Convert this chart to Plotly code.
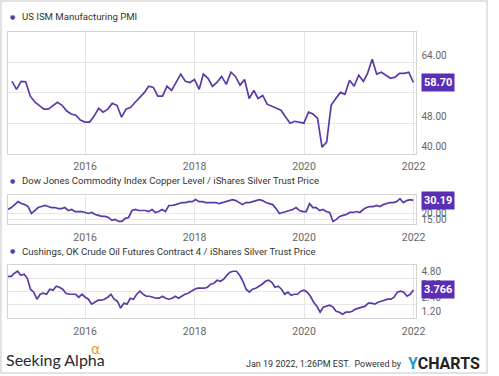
import pandas as pd
import plotly.graph_objects as go

# ---------------- data ----------------
pmi_title = "US ISM Manufacturing PMI"
cu_title = "Dow Jones Commodity Index Copper Level / iShares Silver Trust Price"
oil_title = "Cushings, OK Crude Oil Futures Contract 4 / iShares Silver Trust Price"

pmi_values = [
    59.0, 56.9, 59.0, 58.9, 55.1, 53.5, 52.7, 51.7, 51.7, 52.7,
    53.5, 52.7, 51.2, 50.4, 50.1, 48.8, 48.3, 48.3, 49.8, 51.9,
    50.9, 51.7, 53.2, 52.7, 49.6, 51.7, 52.2, 53.5, 54.8, 56.1,
    57.7, 57.4, 55.1, 55.1, 57.7, 56.6, 58.8, 60.9, 59.0, 58.7,
    59.5, 56.9, 60.9, 59.8, 57.7, 58.8, 60.3, 58.2, 61.4, 60.3,
    58.0, 59.5,
    54.5, 56.6, 54.5, 55.3, 53.0, 52.5, 51.9, 51.4, 49.6, 48.0,
    48.5, 48.3, 48.0, 50.9, 50.4, 49.3, 41.7, 43.0, 52.7, 54.5,
    56.1, 55.6, 59.3, 57.7, 60.6, 59.0, 61.1, 64.8, 60.9, 61.4,
    60.6, 59.8, 60.1, 61.1, 61.1, 61.4, 58.7,
]
pmi_dates = pd.date_range("2014-08-31", periods=len(pmi_values), freq="ME")

cu_values = [
    23.1, 24.6, 26.9, 29.2, 27.7, 26.9, 25.4, 20.0, 22.3, 24.6,
    25.4, 26.2, 25.4, 24.6, 24.6, 23.8, 23.8, 24.6, 22.3, 23.1,
    21.5, 21.5, 21.5, 20.8, 20.0, 20.8, 19.2, 18.5, 17.7, 17.7,
    16.9, 14.6, 15.4, 13.8, 13.8, 16.2, 16.9, 22.3, 23.1, 22.3,
    22.3, 22.3, 21.5, 23.1, 20.8, 21.5, 23.1, 21.5, 26.2, 26.2,
    26.9, 27.7, 28.5, 28.5, 29.2, 29.2, 30.8, 29.2, 29.2, 28.5,
    28.5, 28.5, 28.5, 27.7, 28.5, 29.2, 30.0, 30.8, 30.0, 28.5,
    26.9, 28.5, 28.5, 29.2, 30.0, 30.8, 30.0, 28.5, 27.7, 26.9,
    23.8, 20.0, 20.8, 21.5, 22.3, 23.1, 24.6, 22.3, 21.5, 21.5,
    27.7, 24.6, 24.6, 22.3, 23.1, 21.5, 20.8, 13.8, 15.4, 17.7,
    18.5, 19.2, 20.8, 20.8, 21.5, 20.8, 23.1, 24.6, 25.4, 25.4,
    26.2, 25.4, 26.9, 27.7, 28.5, 28.5, 29.2, 31.5, 28.5, 30.0,
    30.8, 30.19,
]
cu_dates = pd.date_range("2014-08-04", "2021-12-31", periods=len(cu_values))

oil_values = [
    5.00, 5.00, 5.28, 5.46, 5.09, 5.19, 4.82, 3.83, 3.56, 2.92,
    3.37, 3.46, 3.37, 3.83, 3.74, 4.10, 4.01, 3.83, 3.46, 3.37,
    3.37, 3.37, 3.10, 3.37, 3.10, 2.92, 2.47, 2.65, 2.83, 2.83,
    2.92, 3.10, 3.37, 2.92, 2.74, 2.11, 2.56, 2.47, 3.01, 2.92,
    3.37, 3.65, 3.37, 3.19, 3.19, 3.10, 3.01, 3.01, 3.19, 3.01,
    2.92, 3.01, 3.19, 3.01, 3.19, 3.37, 3.46, 3.65, 3.83, 3.92,
    3.92, 3.92, 4.01, 4.28, 4.37, 4.64, 4.55, 4.73, 5.09, 5.37,
    5.46, 5.46, 5.09, 4.55, 3.83, 3.56, 3.83, 3.92, 4.10, 4.28,
    4.55, 4.64, 4.46, 4.01, 4.10, 3.83, 3.37, 3.56, 3.28, 3.37,
    3.37, 3.65, 3.74, 3.56, 3.19, 2.65, 2.29, 1.74, 2.20, 2.29,
    2.38, 2.20, 1.83, 1.74, 1.56, 1.74, 1.74, 1.83, 2.02, 2.11,
    2.20, 2.29, 2.56, 2.56, 2.47, 2.65, 2.74, 2.83, 2.92, 2.92,
    3.10, 3.56, 3.65, 3.56, 3.19, 3.37, 3.766,
]
oil_dates = pd.date_range("2014-08-04", "2021-12-31", periods=len(oil_values))

pmi_ticks = [40, 48, 56, 64]
cu_ticks = [15, 20]
oil_ticks = [1.2, 2.4, 3.6, 4.8]
year_ticks = ["2016-01-01", "2018-01-01", "2020-01-01", "2022-01-01"]
year_labels = ["2016", "2018", "2020", "2022"]

# ---------------- style ----------------
W, H = 499, 376
LINE = "#5b3aa8"
BADGE = "#5a2fb6"
GRID = "#e6e6e6"
BORDER = "#d4d4d4"
TICKC = "#666666"
FONT = "Roboto"

def px_x(p):
    return p / W

def px_y(p):
    return 1 - p / H

x_dom = [px_x(8), px_x(424)]
x_range = ["2014-08-03", "2022-01-14"]
marker_x = pd.Timestamp("2022-02-14")

fig = go.Figure()

panels = [
    dict(name=pmi_title, dates=pmi_dates, vals=pmi_values, ticks=pmi_ticks,
         rng=[40, 72], top=32, bot=154, title_y=17, label="58.70", tlp="outside top"),
    dict(name=cu_title, dates=cu_dates, vals=cu_values, ticks=cu_ticks,
         rng=[11.5, 34], top=196, bot=225, title_y=181, label="30.19", tlp="outside"),
    dict(name=oil_title, dates=oil_dates, vals=oil_values, ticks=oil_ticks,
         rng=[1.2, 6.0], top=266, bot=319, title_y=252, label="3.766", tlp="outside top"),
]

for i, p in enumerate(panels, start=1):
    xa = "x" if i == 1 else f"x{i}"
    ya = "y" if i == 1 else f"y{i}"
    fig.add_trace(go.Scatter(
        x=p["dates"], y=p["vals"], mode="lines",
        line=dict(color=LINE, width=1.7), xaxis=xa, yaxis=ya,
        showlegend=False, hoverinfo="skip"))
    # badge arrow
    fig.add_trace(go.Scatter(
        x=[marker_x], y=[p["vals"][-1]], mode="markers",
        marker=dict(symbol="triangle-left", size=10, color=BADGE),
        xaxis=xa, yaxis=ya, cliponaxis=False, showlegend=False, hoverinfo="skip"))
    dom_y = [px_y(p["bot"]), px_y(p["top"])]
    fig.update_layout(**{
        f"xaxis{'' if i == 1 else i}": dict(
            domain=x_dom, range=x_range, anchor=ya, type="date",
            tickvals=year_ticks, ticktext=year_labels,
            showgrid=True, gridcolor=GRID, gridwidth=1,
            showline=True, mirror=True, linecolor=BORDER, linewidth=1,
            ticks="", ticklabelstandoff=3,
            tickfont=dict(family=FONT, size=10.5, color=TICKC),
            zeroline=False, fixedrange=True),
        f"yaxis{'' if i == 1 else i}": dict(
            domain=dom_y, range=p["rng"], anchor=xa, side="right",
            tickvals=p["ticks"], ticktext=[f"{t:.2f}" for t in p["ticks"]],
            ticklabelposition=p["tlp"],
            showgrid=True, gridcolor=GRID, gridwidth=1,
            showline=True, mirror=True, linecolor=BORDER, linewidth=1,
            ticks="", ticklabelstandoff=3,
            tickfont=dict(family=FONT, size=10, color=TICKC),
            zeroline=False, fixedrange=True),
    })
    # title bullet
    fig.add_annotation(
        xref="paper", yref="paper", x=px_x(13), y=px_y(p["title_y"] - 0.5),
        xanchor="center", yanchor="middle", showarrow=False,
        text="●", font=dict(family="DejaVu Sans", size=6, color=LINE))
    # title
    fig.add_annotation(
        xref="paper", yref="paper", x=px_x(20), y=px_y(p["title_y"]),
        xanchor="left", yanchor="middle", showarrow=False,
        text=p["name"],
        font=dict(family=FONT, size=9.6, color="#333333"))
    # badge label
    fig.add_annotation(
        xref="paper", yref=ya, x=px_x(447), y=p["vals"][-1],
        xanchor="center", yanchor="middle", showarrow=False,
        text=f"<b>{p['label']}</b>", bgcolor=BADGE, borderpad=2,
        font=dict(family=FONT, size=11, color="white"))

# footer
fig.add_annotation(xref="paper", yref="paper", x=px_x(4), y=px_y(360),
                   xanchor="left", yanchor="middle", showarrow=False,
                   text="Seeking Alpha", font=dict(family="Lato", size=16, color="#2a2a2a"))
fig.add_annotation(xref="paper", yref="paper", x=px_x(91), y=px_y(350),
                   xanchor="left", yanchor="middle", showarrow=False,
                   text="α", font=dict(family="DejaVu Sans", size=14, color="#f0a030"))
fig.add_annotation(xref="paper", yref="paper", x=px_x(412), y=px_y(365),
                   xanchor="right", yanchor="middle", showarrow=False,
                   text="Jan 19 2022, 1:26PM EST.  Powered by",
                   font=dict(family=FONT, size=9, color="#333333"))
fig.add_annotation(xref="paper", yref="paper", x=px_x(492), y=px_y(364),
                   xanchor="right", yanchor="middle", showarrow=False,
                   text="<b><span style='color:#1e9ad6'>Y</span>CHARTS</b>",
                   font=dict(family="Roboto", size=16, color="#222222"))

# outer frame
fig.add_shape(type="rect", xref="paper", yref="paper",
              x0=px_x(1), x1=px_x(497), y0=px_y(374), y1=px_y(1),
              line=dict(color="#d9d9d9", width=1.5))

fig.update_layout(
    width=W, height=H, margin=dict(l=0, r=0, t=0, b=0),
    paper_bgcolor="white", plot_bgcolor="white", showlegend=False)

fig.write_html("out.html", config={"displayModeBar": False},
               post_script="document.body.style.margin='0';document.body.style.overflow='hidden';")
